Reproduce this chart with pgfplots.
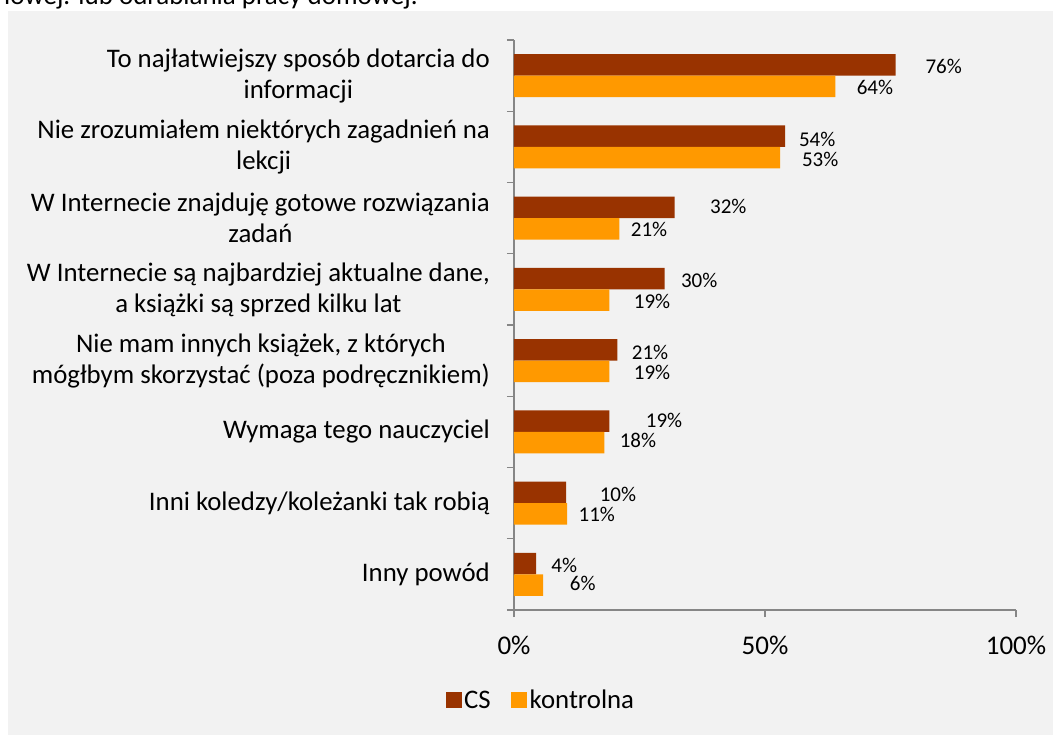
\documentclass[border=0pt]{standalone}
\usepackage{fontspec}
\setmainfont{Carlito}
\usepackage{pgfplots}
\pgfplotsset{compat=1.18}
\definecolor{cs}{HTML}{993300}
\definecolor{kon}{HTML}{FF9900}
\definecolor{bg}{HTML}{F2F2F2}
\definecolor{axg}{HTML}{868686}
\begin{document}
\begin{tikzpicture}
\useasboundingbox (0pt,0pt) rectangle (1053pt,-735pt);
\begin{scope}
\clip (0pt,0pt) rectangle (1053pt,-735pt);
\node[anchor=base west, inner sep=0pt, font=\fontsize{27}{32}\selectfont] at (4pt,-5pt) {iowej. lub odrabiania pracy domowej.};
\end{scope}
\fill[bg] (8pt,-11pt) rectangle (1053pt,-735pt);
\begin{axis}[
  at={(514pt,-610pt)}, anchor=south west,
  scale only axis, width=502pt, height=570pt,
  xmin=0, xmax=100, ymin=-0.5, ymax=7.5,
  enlargelimits=false, clip=false,
  axis x line*=bottom, axis y line*=left,
  axis line style={draw=axg, line width=1.2pt},
  tick style={draw=axg, line width=1.2pt},
  tick align=outside, major tick length=7pt,
  xtick={0,50,100}, xticklabels={0\%,50\%,100\%},
  xticklabel style={font=\fontsize{27}{32}\selectfont, inner sep=0pt, anchor=center, yshift=-28pt},
  ytick={-0.5,0.5,...,7.5}, yticklabels={},
  extra y ticks={0,1,2,3,4,5,6,7},
  extra y tick style={major tick length=0pt},
  extra y tick labels={{Inny powód},{Inni koledzy/koleżanki tak robią},{Wymaga tego nauczyciel},{Nie mam innych książek, z których\\mógłbym skorzystać (poza podręcznikiem)},{W Internecie są najbardziej aktualne dane,\\a książki są sprzed kilku lat},{W Internecie znajduję gotowe rozwiązania\\zadań},{Nie zrozumiałem niektórych zagadnień na\\lekcji},{To najłatwiejszy sposób dotarcia do\\informacji}},
  yticklabel style={font=\fontsize{26.8}{31}\selectfont, align=center, anchor=east, inner sep=0pt, xshift=-24pt},
  legend columns=2,
  legend style={at={(0.054,-0.158)}, anchor=center, draw=none, fill=none,
    font=\fontsize{26.8}{31}\selectfont, nodes={inner sep=2.5pt},
    /tikz/every even column/.append style={column sep=18pt}},
  legend image code/.code={\fill[#1] (0pt,-8pt) rectangle (16pt,8pt);},
]
\addplot[xbar, bar width=21.5pt, bar shift=10.75pt, fill=cs, draw=none]
  coordinates {(4.4,0) (10.4,1) (19,2) (20.6,3) (30,4) (32,5) (54,6) (76,7)};
\addlegendentry{CS}
\addplot[xbar, bar width=21.5pt, bar shift=-10.75pt, fill=kon, draw=none]
  coordinates {(5.8,0) (10.6,1) (18,2) (19,3) (19,4) (21,5) (53,6) (64,7)};
\addlegendentry{kontrolna}
\addplot[only marks, mark=none, forget plot, nodes near coords, point meta=explicit symbolic,
  nodes near coords style={anchor=center, inner sep=0pt, font=\fontsize{21}{25}\selectfont}]
  table[meta=label] {
x y label
85.6 7.13 76\%
71.9 6.83 64\%
60.4 6.11 54\%
61.0 5.83 53\%
42.7 5.16 32\%
26.9 4.84 21\%
36.9 4.12 30\%
27.5 3.83 19\%
27.1 3.12 21\%
27.5 2.83 19\%
29.9 2.16 19\%
24.7 1.875 18\%
20.7 1.12 10\%
16.5 0.84 11\%
10.0 0.12 4\%
13.7 -0.12 6\%
};
\end{axis}
\end{tikzpicture}
\end{document}
